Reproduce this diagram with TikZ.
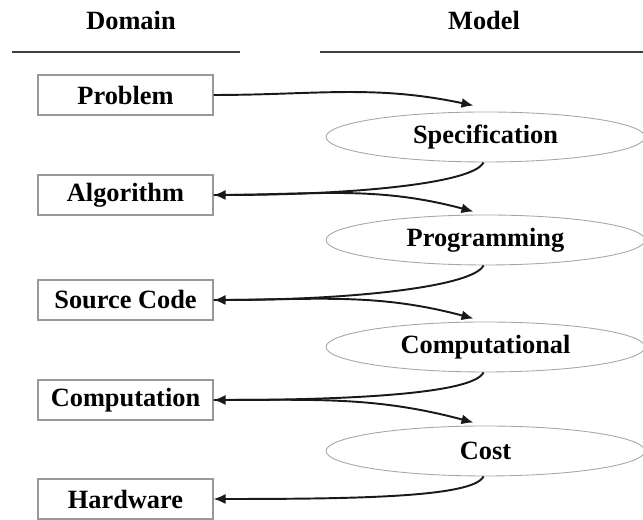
\documentclass[tikz,border=0pt]{standalone}
\usepackage{fontspec}
\setmainfont{Liberation Serif}
\usepackage{tikz}
\usetikzlibrary{arrows.meta,positioning,shapes.geometric}

\begin{document}
\begin{tikzpicture}[
  lbl/.style={font=\fontsize{15}{17}\selectfont\bfseries, inner sep=0pt},
  dombox/.style={lbl, draw=gray!80, line width=0.6pt,
    minimum width=3.5cm, minimum height=0.8cm},
  modell/.style={lbl, ellipse, draw=gray!70, line width=0.5pt,
    minimum width=6.38cm, minimum height=1.0cm},
  rule/.style={draw=black!75, line width=1.1pt},
  flow/.style={-{Latex[length=0.24cm,width=0.2cm]}, line width=1.1pt,
    black!90},
]
\useasboundingbox (0,0) rectangle (12.86,10.4);

% Column headers
\node[lbl, anchor=base] (hdom) at (2.62, 9.8) {Domain};
\node[lbl, anchor=base] (hmod) at (9.68, 9.8) {Model};
\draw[rule] (0.24, 9.36) -- (4.8, 9.36);
\draw[rule] (6.4, 9.36) -- (12.86, 9.36);

% Domain entries
\node[dombox] (prob) at (2.51, 8.5) {Problem};
\node[dombox] (algo) at (2.51, 6.5) {Algorithm};
\node[dombox] (src)  at (2.51, 4.4) {Source Code};
\node[dombox] (comp) at (2.51, 2.4) {Computation};
\node[dombox] (hw)   at (2.51, 0.42) {Hardware};

% Model entries
\node[modell] (spec) at (9.71, 7.66) {Specification};
\node[modell] (prog) at (9.71, 5.6) {Programming};
\node[modell] (cmod) at (9.71, 3.46) {Computational};
\node[modell] (cost) at (9.71, 1.38) {Cost};

% Domain -> model
\draw[flow] (prob.east) to[out=0, in=168]
  ([xshift=-0.24cm, yshift=0.12cm]spec.north);
\draw[flow] (algo.east) to[out=0, in=165]
  ([xshift=-0.24cm, yshift=0.06cm]prog.north);
\draw[flow] (src.east) to[out=0, in=165]
  ([xshift=-0.24cm, yshift=0.06cm]cmod.north);
\draw[flow] (comp.east) to[out=0, in=165]
  ([xshift=-0.24cm, yshift=0.06cm]cost.north);

% Model -> domain
\draw[flow] ([xshift=-0.04cm]spec.south)
  .. controls +(-0.2,-0.42) and +(2.8,0) .. (algo.east);
\draw[flow] ([xshift=-0.04cm]prog.south)
  .. controls +(-0.2,-0.42) and +(2.8,0) .. (src.east);
\draw[flow] ([xshift=-0.04cm]cmod.south)
  .. controls +(-0.2,-0.42) and +(2.8,0) .. (comp.east);
\draw[flow] ([xshift=-0.04cm]cost.south)
  .. controls +(-0.2,-0.42) and +(2.8,0) .. (hw.east);

\end{tikzpicture}
\end{document}
